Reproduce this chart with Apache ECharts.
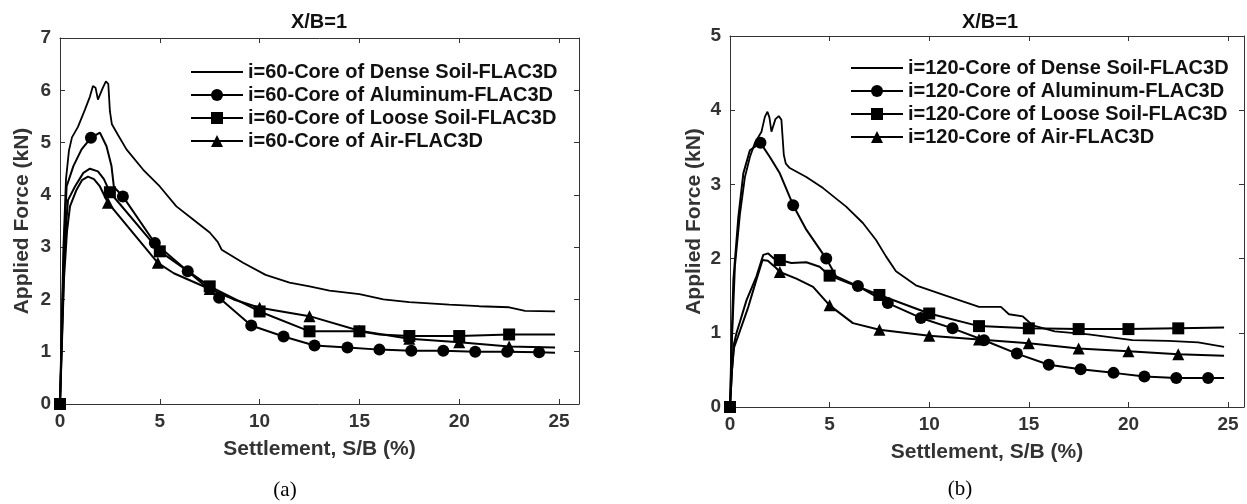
<!DOCTYPE html>
<html>
<head>
<meta charset="utf-8">
<script src="https://cdn.jsdelivr.net/npm/echarts@6/dist/echarts.min.js"></script>
<style>
html,body{margin:0;padding:0;background:#fff;}
#chart{width:1247px;height:504px;}
</style>
</head>
<body>
<div id="chart"></div>
<script>
// ---------- Data (a): i=60 ----------
const xTicks = [0, 5, 10, 15, 20, 25];
const namesA = ['i=60-Core of Dense Soil-FLAC3D', 'i=60-Core of Aluminum-FLAC3D', 'i=60-Core of Loose Soil-FLAC3D', 'i=60-Core of Air-FLAC3D'];
const namesB = ['i=120-Core of Dense Soil-FLAC3D', 'i=120-Core of Aluminum-FLAC3D', 'i=120-Core of Loose Soil-FLAC3D', 'i=120-Core of Air-FLAC3D'];

const denseA = [[0,0],[0.08,1.5],[0.17,3.0],[0.3,4.3],[0.45,4.85],[0.6,5.1],[0.9,5.3],[1.25,5.63],[1.5,5.88],[1.65,6.08],[1.78,6.05],[1.9,5.82],[2.0,5.8],[2.15,6.05],[2.3,6.17],[2.42,6.12],[2.5,5.6],[2.6,5.35],[2.9,5.15],[3.33,4.87],[4.17,4.48],[5,4.16],[5.83,3.78],[6.67,3.53],[7.5,3.28],[7.9,3.1],[8.1,2.95],[9.17,2.7],[10.3,2.47],[11.5,2.32],[12.5,2.25],[13.5,2.17],[15,2.1],[16.2,2.0],[17.5,1.95],[19.5,1.9],[21,1.87],[22.5,1.85],[23.3,1.78],[24.8,1.77]];
const aluminumA = [[0,0],[0.1,1.5],[0.2,3.0],[0.33,4.16],[0.67,4.55],[1.08,4.87],[2.0,5.19],[2.33,4.93],[2.58,4.55],[2.7,4.15],[24.8,0.98]];
const aluminumAMarks = [[0,0],[1.55,5.09],[3.15,3.97],[4.75,3.08],[6.4,2.54],[7.97,2.03],[9.58,1.5],[11.2,1.29],[12.75,1.12],[14.4,1.08],[16,1.04],[17.6,1.02],[19.2,1.02],[20.8,1.0],[22.4,1.0],[24,0.99]];
const looseA = [[0,0],[0.1,1.3],[0.2,2.6],[0.3,3.4],[0.4,3.9],[0.75,4.16],[1.17,4.42],[1.5,4.5],[1.9,4.45],[2.2,4.3],[16,1.33],[24.8,1.33]];
const looseAMarks = [[0,0],[2.5,4.05],[5,2.92],[7.5,2.25],[10,1.77],[12.5,1.39],[15,1.39],[17.5,1.3],[20,1.3],[22.5,1.33]];
const airA = [[0,0],[0.1,1.2],[0.2,2.4],[0.35,3.3],[0.5,3.78],[0.83,4.1],[1.1,4.28],[1.4,4.35],[1.7,4.3],[2.0,4.16],[5.7,2.5],[8.7,2.0],[24.8,1.08]];
const airAMarks = [[0,0],[2.4,3.85],[4.9,2.7],[7.5,2.2],[10,1.84],[12.5,1.68],[15,1.4],[17.5,1.25],[20,1.18],[22.5,1.1]];

// ---------- Data (b): i=120 ----------
const denseB = [[0,0],[0.1,0.9],[0.25,1.9],[0.5,2.6],[0.75,3.1],[1.0,3.37],[1.25,3.56],[1.58,3.71],[1.75,3.91],[1.88,3.98],[1.98,3.9],[2.08,3.71],[2.18,3.7],[2.28,3.88],[2.45,3.92],[2.58,3.87],[2.7,3.4],[2.8,3.28],[3.0,3.22],[3.83,3.1],[4.67,2.95],[5.83,2.7],[6.67,2.48],[7.33,2.25],[7.83,2.03],[8.33,1.83],[9.33,1.64],[10.83,1.5],[12.5,1.35],[13.6,1.35],[14.0,1.25],[14.7,1.22],[15.2,1.1],[16.3,1.02],[18,0.98],[20.2,0.9],[22,0.89],[23.5,0.87],[24.8,0.81]];
const aluminumB = [[0,0],[0.08,0.9],[0.17,1.71],[0.42,2.56],[0.67,3.15],[1.0,3.46],[2,3.37],[2.5,3.15],[3.83,2.39],[5.33,1.76],[24.8,0.39]];
const aluminumBMarks = [[0,0],[1.53,3.56],[3.17,2.72],[4.83,2.0],[6.42,1.63],[7.92,1.4],[9.58,1.2],[11.17,1.06],[12.75,0.9],[14.4,0.72],[16,0.57],[17.6,0.51],[19.25,0.46],[20.8,0.41],[22.4,0.39],[24,0.39]];
const looseB = [[0,0],[0.1,0.5],[0.2,0.85],[0.33,1.0],[0.5,1.15],[0.83,1.44],[1.33,1.76],[1.67,2.05],[1.92,2.07],[2.2,2.0],[3.08,1.94],[3.83,1.95],[4.5,1.89],[24.8,1.07]];
const looseBMarks = [[0,0],[2.5,1.98],[5,1.77],[7.5,1.51],[10,1.26],[12.5,1.09],[15,1.06],[17.5,1.05],[20,1.05],[22.5,1.06]];
const airB = [[0,0],[0.1,0.5],[0.2,0.8],[0.4,0.95],[0.92,1.35],[1.33,1.72],[1.63,1.98],[1.9,1.97],[2.33,1.87],[3.33,1.73],[4.17,1.62],[6.17,1.13],[24.8,0.69]];
const airBMarks = [[0,0],[2.5,1.82],[5,1.37],[7.5,1.04],[10,0.96],[12.5,0.91],[15,0.86],[17.5,0.79],[20,0.75],[22.5,0.71]];

// ---------- Build ----------
const FONT = '"Liberation Sans", Arial, Helvetica, sans-serif';
const AXC = '#333';

function merge(points, marks, sym) {
  const map = new Map();
  points.forEach(p => map.set(p[0], {value: p, symbol: 'none'}));
  (marks || []).forEach(p => map.set(p[0], {value: p, symbol: sym}));
  return Array.from(map.values()).sort((a, b) => a.value[0] - b.value[0]);
}

function lineSeries(name, idx, points, marks, sym, lw) {
  return {
    name: name, type: 'line', xAxisIndex: idx * 2, yAxisIndex: idx * 2,
    data: merge(points, marks, sym || 'none'),
    symbol: sym || 'circle', symbolSize: sym === 'triangle' ? 12 : 12,
    showSymbol: true, showAllSymbol: true,
    lineStyle: {color: '#000', width: lw || 2},
    itemStyle: {color: '#000'},
    emphasis: {disabled: true},
    z: 3
  };
}

function xAxes(gi, max) {
  const base = {
    gridIndex: gi, type: 'value', min: 0, max: max, interval: 5,
    splitLine: {show: false},
    axisLine: {show: true, onZero: false, lineStyle: {color: AXC, width: 1}},
    axisTick: {show: true, inside: true, length: 5, lineStyle: {color: AXC}}
  };
  return [
    Object.assign({}, base, {
      position: 'bottom',
      name: 'Settlement, S/B (%)', nameLocation: 'middle', nameGap: 35,
      nameTextStyle: {fontFamily: FONT, fontWeight: 'bold', fontSize: 21, color: AXC},
      axisLabel: {margin: 8, fontFamily: FONT, fontWeight: 'bold', fontSize: 19, color: AXC,
        formatter: v => (xTicks.indexOf(v) >= 0 ? String(v) : '')}
    }),
    Object.assign({}, base, {position: 'top', axisLabel: {show: false}})
  ];
}

function yAxes(gi, max, gap) {
  const base = {
    gridIndex: gi, type: 'value', min: 0, max: max, interval: 1,
    splitLine: {show: false},
    axisLine: {show: true, onZero: false, lineStyle: {color: AXC, width: 1}},
    axisTick: {show: true, inside: true, length: 5, lineStyle: {color: AXC}}
  };
  return [
    Object.assign({}, base, {
      position: 'left',
      name: 'Applied Force (kN)', nameLocation: 'middle', nameGap: gap,
      nameTextStyle: {fontFamily: FONT, fontWeight: 'bold', fontSize: 21, color: AXC},
      axisLabel: {margin: 9, fontFamily: FONT, fontWeight: 'bold', fontSize: 19, color: AXC}
    }),
    Object.assign({}, base, {position: 'right', axisLabel: {show: false}})
  ];
}

function legend(names, left, top) {
  return {
    orient: 'vertical', left: left, top: top, padding: 0,
    itemWidth: 52, itemHeight: 15, itemGap: 3,
    selectedMode: false,
    textStyle: {fontFamily: FONT, fontWeight: 'bold', fontSize: 20, color: '#111', padding: [0, 0, 0, 0]},
    data: [
      {name: names[0], itemStyle: {opacity: 0}},
      {name: names[1]}, {name: names[2]}, {name: names[3]}
    ]
  };
}

function title(text, x, y, serif) {
  return {
    text: text, left: x, top: y, padding: 0, textAlign: 'center', textVerticalAlign: 'middle',
    textStyle: serif
      ? {fontFamily: '"Liberation Serif", "Times New Roman", serif', fontWeight: 'normal', fontSize: 21, color: '#000'}
      : {fontFamily: FONT, fontWeight: 'bold', fontSize: 20, color: '#111'}
  };
}

const option = {
  animation: false,
  backgroundColor: '#fff',
  title: [
    title('X/B=1', 319, 22, false),
    title('X/B=1', 990, 22, false),
    title('(a)', 285, 490, true),
    title('(b)', 960, 489, true)
  ],
  legend: [legend(namesA, 190, 62), legend(namesB, 850, 58)],
  grid: [
    {left: 60, top: 38, width: 519, height: 366},
    {left: 730, top: 36, width: 516, height: 371}
  ],
  xAxis: [].concat(xAxes(0, 26), xAxes(1, 25.8)),
  yAxis: [].concat(yAxes(0, 7, 27), yAxes(1, 5, 25)),
  series: [
    lineSeries(namesA[0], 0, denseA, null, null, 1.8),
    lineSeries(namesA[1], 0, aluminumA, aluminumAMarks, 'circle'),
    lineSeries(namesA[2], 0, looseA, looseAMarks, 'rect'),
    lineSeries(namesA[3], 0, airA, airAMarks, 'triangle'),
    lineSeries(namesB[0], 1, denseB, null, null, 1.8),
    lineSeries(namesB[1], 1, aluminumB, aluminumBMarks, 'circle'),
    lineSeries(namesB[2], 1, looseB, looseBMarks, 'rect'),
    lineSeries(namesB[3], 1, airB, airBMarks, 'triangle')
  ]
};

const chart = echarts.init(document.getElementById('chart'), null, {renderer: 'canvas'});
chart.setOption(option);
</script>
</body>
</html>
